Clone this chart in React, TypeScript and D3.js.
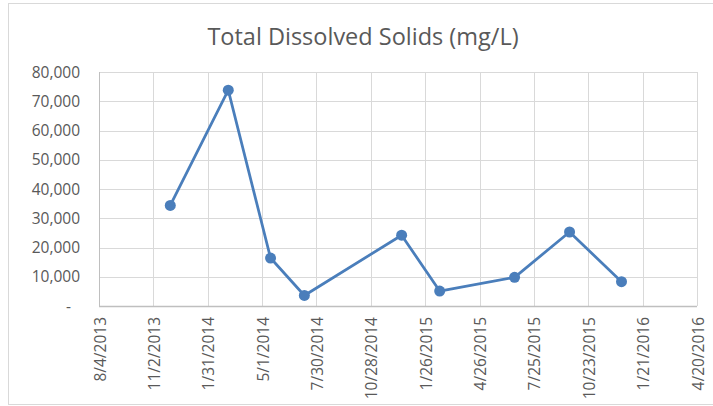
import React from "react";
import * as d3 from "d3";

const sampleDates = ["11/30/2013", "3/6/2014", "5/15/2014", "7/10/2014", "12/18/2014", "2/19/2015", "6/23/2015", "9/22/2015", "12/17/2015"];
const tdsValues = [34400, 73800, 16400, 3600, 24200, 5100, 9800, 25300, 8300];
const xTickLabels = ["8/4/2013", "11/2/2013", "1/31/2014", "5/1/2014", "7/30/2014", "10/28/2014", "1/26/2015", "4/26/2015", "7/25/2015", "10/23/2015", "1/21/2016", "4/20/2016"];
const yTicks = [0, 10000, 20000, 30000, 40000, 50000, 60000, 70000, 80000];

const W = 713, H = 406;
const left = 99, right = 697, top = 72, bottom = 306;
const font = "'Open Sans', 'Noto Sans', sans-serif";
const textColor = "#595959";

export default function App() {
  const parse = d3.utcParse("%m/%d/%Y");
  const tickDates = xTickLabels.map((s) => parse(s) as Date);
  const x = d3.scaleUtc().domain([tickDates[0], tickDates[tickDates.length - 1]]).range([left, right]);
  const y = d3.scaleLinear().domain([0, 80000]).range([bottom, top]);
  const pts = sampleDates.map((s, i) => ({ d: parse(s) as Date, v: tdsValues[i] }));
  const line = d3.line<{ d: Date; v: number }>().x((p) => x(p.d)).y((p) => y(p.v));
  const fmt = d3.format(",");

  return (
    <svg width={W} height={H} style={{ position: "absolute", left: 0, top: 0, background: "#fff" }}>
      <rect x={8.5} y={3.5} width={W} height={401} fill="#fff" stroke="#d9d9d9" strokeWidth={1} />
      <text x={363} y={45} textAnchor="middle" fontFamily={font} fontSize={23.5} fill={textColor}>
        Total Dissolved Solids (mg/L)
      </text>
      {yTicks.map((t) => (
        <line key={"gy" + t} x1={left} x2={right} y1={Math.round(y(t)) + 0.5} y2={Math.round(y(t)) + 0.5} stroke="#d9d9d9" strokeWidth={1} />
      ))}
      {tickDates.map((d, i) => (
        <line key={"gx" + i} x1={Math.round(x(d)) + 0.5} x2={Math.round(x(d)) + 0.5} y1={top} y2={bottom} stroke="#d9d9d9" strokeWidth={1} />
      ))}
      <line x1={left + 0.5} x2={left + 0.5} y1={top} y2={bottom} stroke="#bfbfbf" strokeWidth={1} />
      <line x1={left} x2={right} y1={Math.round(bottom) + 0.5} y2={Math.round(bottom) + 0.5} stroke="#bfbfbf" strokeWidth={1.5} />
      {yTicks.map((t) => (
        <text key={"ty" + t} x={t === 0 ? 71 : 80} y={y(t) + 5.5} textAnchor="end" fontFamily={font} fontSize={15.5} fill={textColor}>
          {t === 0 ? "-" : fmt(t)}
        </text>
      ))}
      {tickDates.map((d, i) => (
        <text key={"tx" + i} transform={`translate(${x(d) + 6.5},317) rotate(-90)`} textAnchor="end" fontFamily={font} fontSize={15.5} fill={textColor}>
          {xTickLabels[i]}
        </text>
      ))}
      <path d={line(pts) ?? ""} fill="none" stroke="#4a7ebb" strokeWidth={2.75} strokeLinejoin="round" />
      {pts.map((p, i) => (
        <circle key={"c" + i} cx={x(p.d)} cy={y(p.v)} r={5.5} fill="#4a7ebb" />
      ))}
    </svg>
  );
}
